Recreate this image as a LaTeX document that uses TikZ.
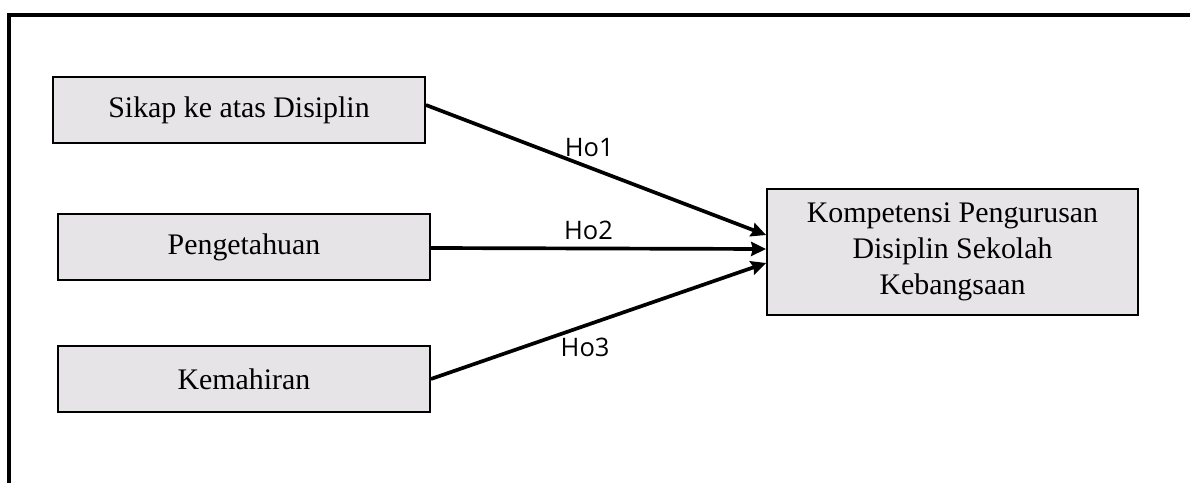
\documentclass[tikz,border=0pt]{standalone}
\usepackage{fontspec}
\setmainfont{Liberation Serif}
\newfontfamily\labelfont{Open Sans}
\usetikzlibrary{arrows.meta}
\definecolor{boxgray}{HTML}{E6E4E6}

\begin{document}
\begin{tikzpicture}
  [
    x = 0.02cm, y = -0.02cm,
    varbox/.style = {draw, line width = 1.1pt, fill = boxgray,
        minimum width = 7.44cm, minimum height = 1.33cm,
        font = \fontsize{17}{20.4}\selectfont},
    hyp/.style = {line width = 2.1pt,
        -{Stealth[length = 8.5pt, width = 8pt, inset = 1pt]}},
    hyplabel/.style = {font = \labelfont\fontsize{14.5}{16}\selectfont,
        inner sep = 1pt},
  ]

  \useasboundingbox (0,0) rectangle (1190,483);

  % frame
  \draw [line width = 2.4pt] (9,483) -- (9,15) -- (1190,15);

  \node [varbox] (sikap) at (239,110) {Sikap ke atas Disiplin};
  \node [varbox] (tahu) at (244,247) {Pengetahuan};
  \node [varbox] (mahir) at (244,379) {Kemahiran};

  \node [varbox, minimum width = 7.42cm, minimum height = 2.52cm,
    align = center] (kps) at (952.5,252)
  {Kompetensi Pengurusan\\Disiplin Sekolah\\Kebangsaan};

  \draw [hyp] ([yshift = 0.1cm]sikap.east) -- ([yshift = 0.34cm]kps.west)
    node [hyplabel, pos = 0.48, above = 4pt] {Ho1};
  \draw [hyp] ([yshift = -0.02cm]tahu.east) -- ([yshift = 0.06cm]kps.west)
    node [hyplabel, pos = 0.47, above = 3pt] {Ho2};
  \draw [hyp] (mahir.east) -- ([yshift = -0.22cm]kps.west)
    node [hyplabel, pos = 0.46, below = 5pt] {Ho3};

\end{tikzpicture}
\end{document}
